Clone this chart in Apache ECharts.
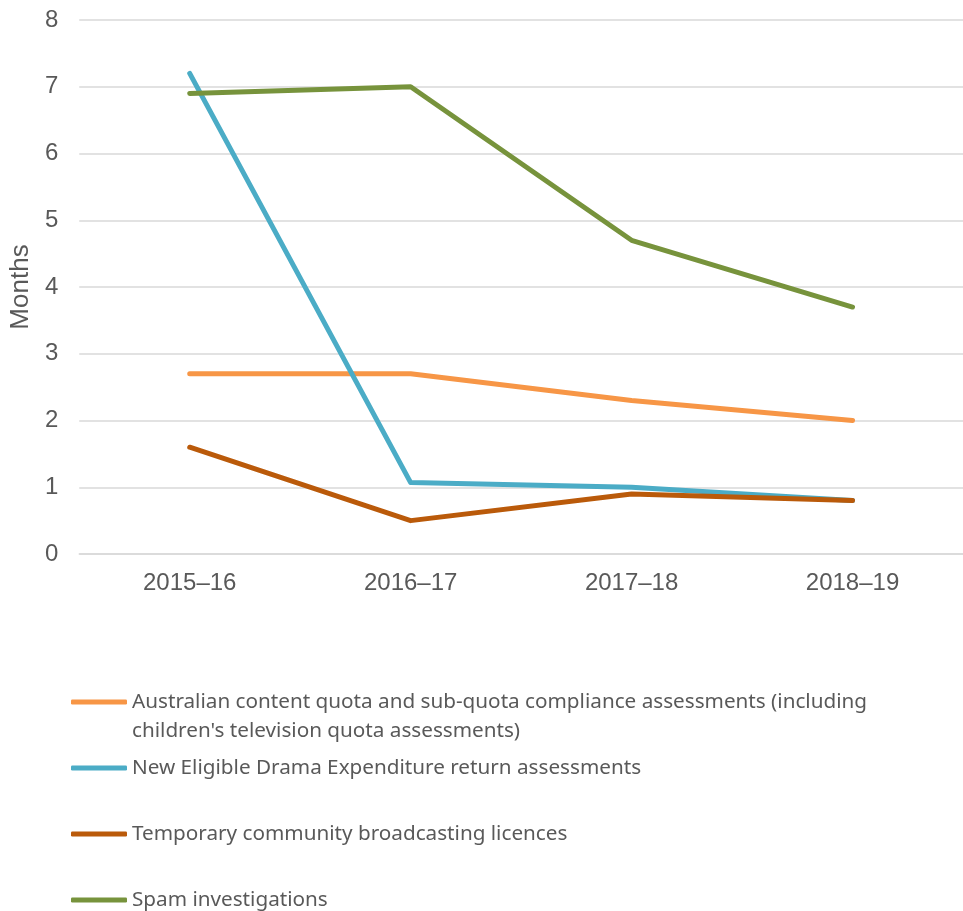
<!DOCTYPE html>
<html><head><meta charset="utf-8">
<script src="https://cdn.jsdelivr.net/npm/echarts@6/dist/echarts.min.js"></script>
<style>html,body{margin:0;padding:0;background:#fff}#c{width:963px;height:911px}</style>
</head><body><div id="c"></div>
<script>
const categories = ['2015–16', '2016–17', '2017–18', '2018–19'];
const yTicks = [0, 1, 2, 3, 4, 5, 6, 7, 8];
const australianContent = [2.7, 2.7, 2.3, 2.0];
const newEligibleDrama = [7.2, 1.07, 1.0, 0.8];
const temporaryCommunity = [1.6, 0.5, 0.9, 0.8];
const spamInvestigations = [6.9, 7.0, 4.7, 3.7];
const seriesNames = [
  "Australian content quota and sub-quota compliance assessments (including children's television quota assessments)",
  'New Eligible Drama Expenditure return assessments',
  'Temporary community broadcasting licences',
  'Spam investigations'
];
const firstLegendLines = ["Australian content quota and sub-quota compliance assessments (including", "children's television quota assessments)"];
const colors = ['#F79646', '#4BACC6', '#BA5A0A', '#77933C'];
const dataSets = [australianContent, newEligibleDrama, temporaryCommunity, spamInvestigations];

const chart = echarts.init(document.getElementById('c'));
const LH = 29;
const legendCenters = [702, 768, 834, 900];
const legendFont = {fontFamily: 'Noto Sans', fontSize: 20.7, color: '#595959'};
const legends = seriesNames.map((n, i) => ({
  data: [n], left: 71, top: legendCenters[i] - (i === 0 ? 1.5 * LH : 0.5 * LH), orient: 'vertical',
  icon: 'roundRect', itemWidth: 56, itemHeight: 5, itemGap: 0, padding: 0,
  selectedMode: false,
  formatter: i === 0 ? () => ' \n' + firstLegendLines.join('\n') : undefined,
  textStyle: Object.assign({lineHeight: LH}, legendFont)
}));
chart.setOption({
  animation: false,
  color: colors,
  grid: {left: 76, right: -13, top: 20, bottom: 357, containLabel: false},
  legend: legends,
  xAxis: {
    type: 'category', data: categories, boundaryGap: true,
    axisLine: {show: true, lineStyle: {color: '#D9D9D9', width: 1.5}},
    axisTick: {show: false},
    axisLabel: {fontFamily: 'Liberation Sans', fontSize: 24, color: '#595959', margin: 17}
  },
  yAxis: {
    type: 'value', min: yTicks[0], max: yTicks[yTicks.length - 1], interval: 1,
    name: 'Months', nameLocation: 'middle', nameGap: 45, nameRotate: 90,
    nameTextStyle: {fontFamily: 'Liberation Sans', fontSize: 26, color: '#595959'},
    axisLine: {show: false}, axisTick: {show: false},
    axisLabel: {fontFamily: 'Liberation Sans', fontSize: 24, color: '#595959', margin: 21},
    splitLine: {lineStyle: {color: '#D9D9D9', width: 1.5}}
  },
  series: dataSets.map((d, i) => ({
    name: seriesNames[i], type: 'line', data: d, showSymbol: false, symbol: 'none',
    lineStyle: {width: 5, color: colors[i], cap: 'round', join: 'round'},
    itemStyle: {color: colors[i]}
  }))
});
</script></body></html>
